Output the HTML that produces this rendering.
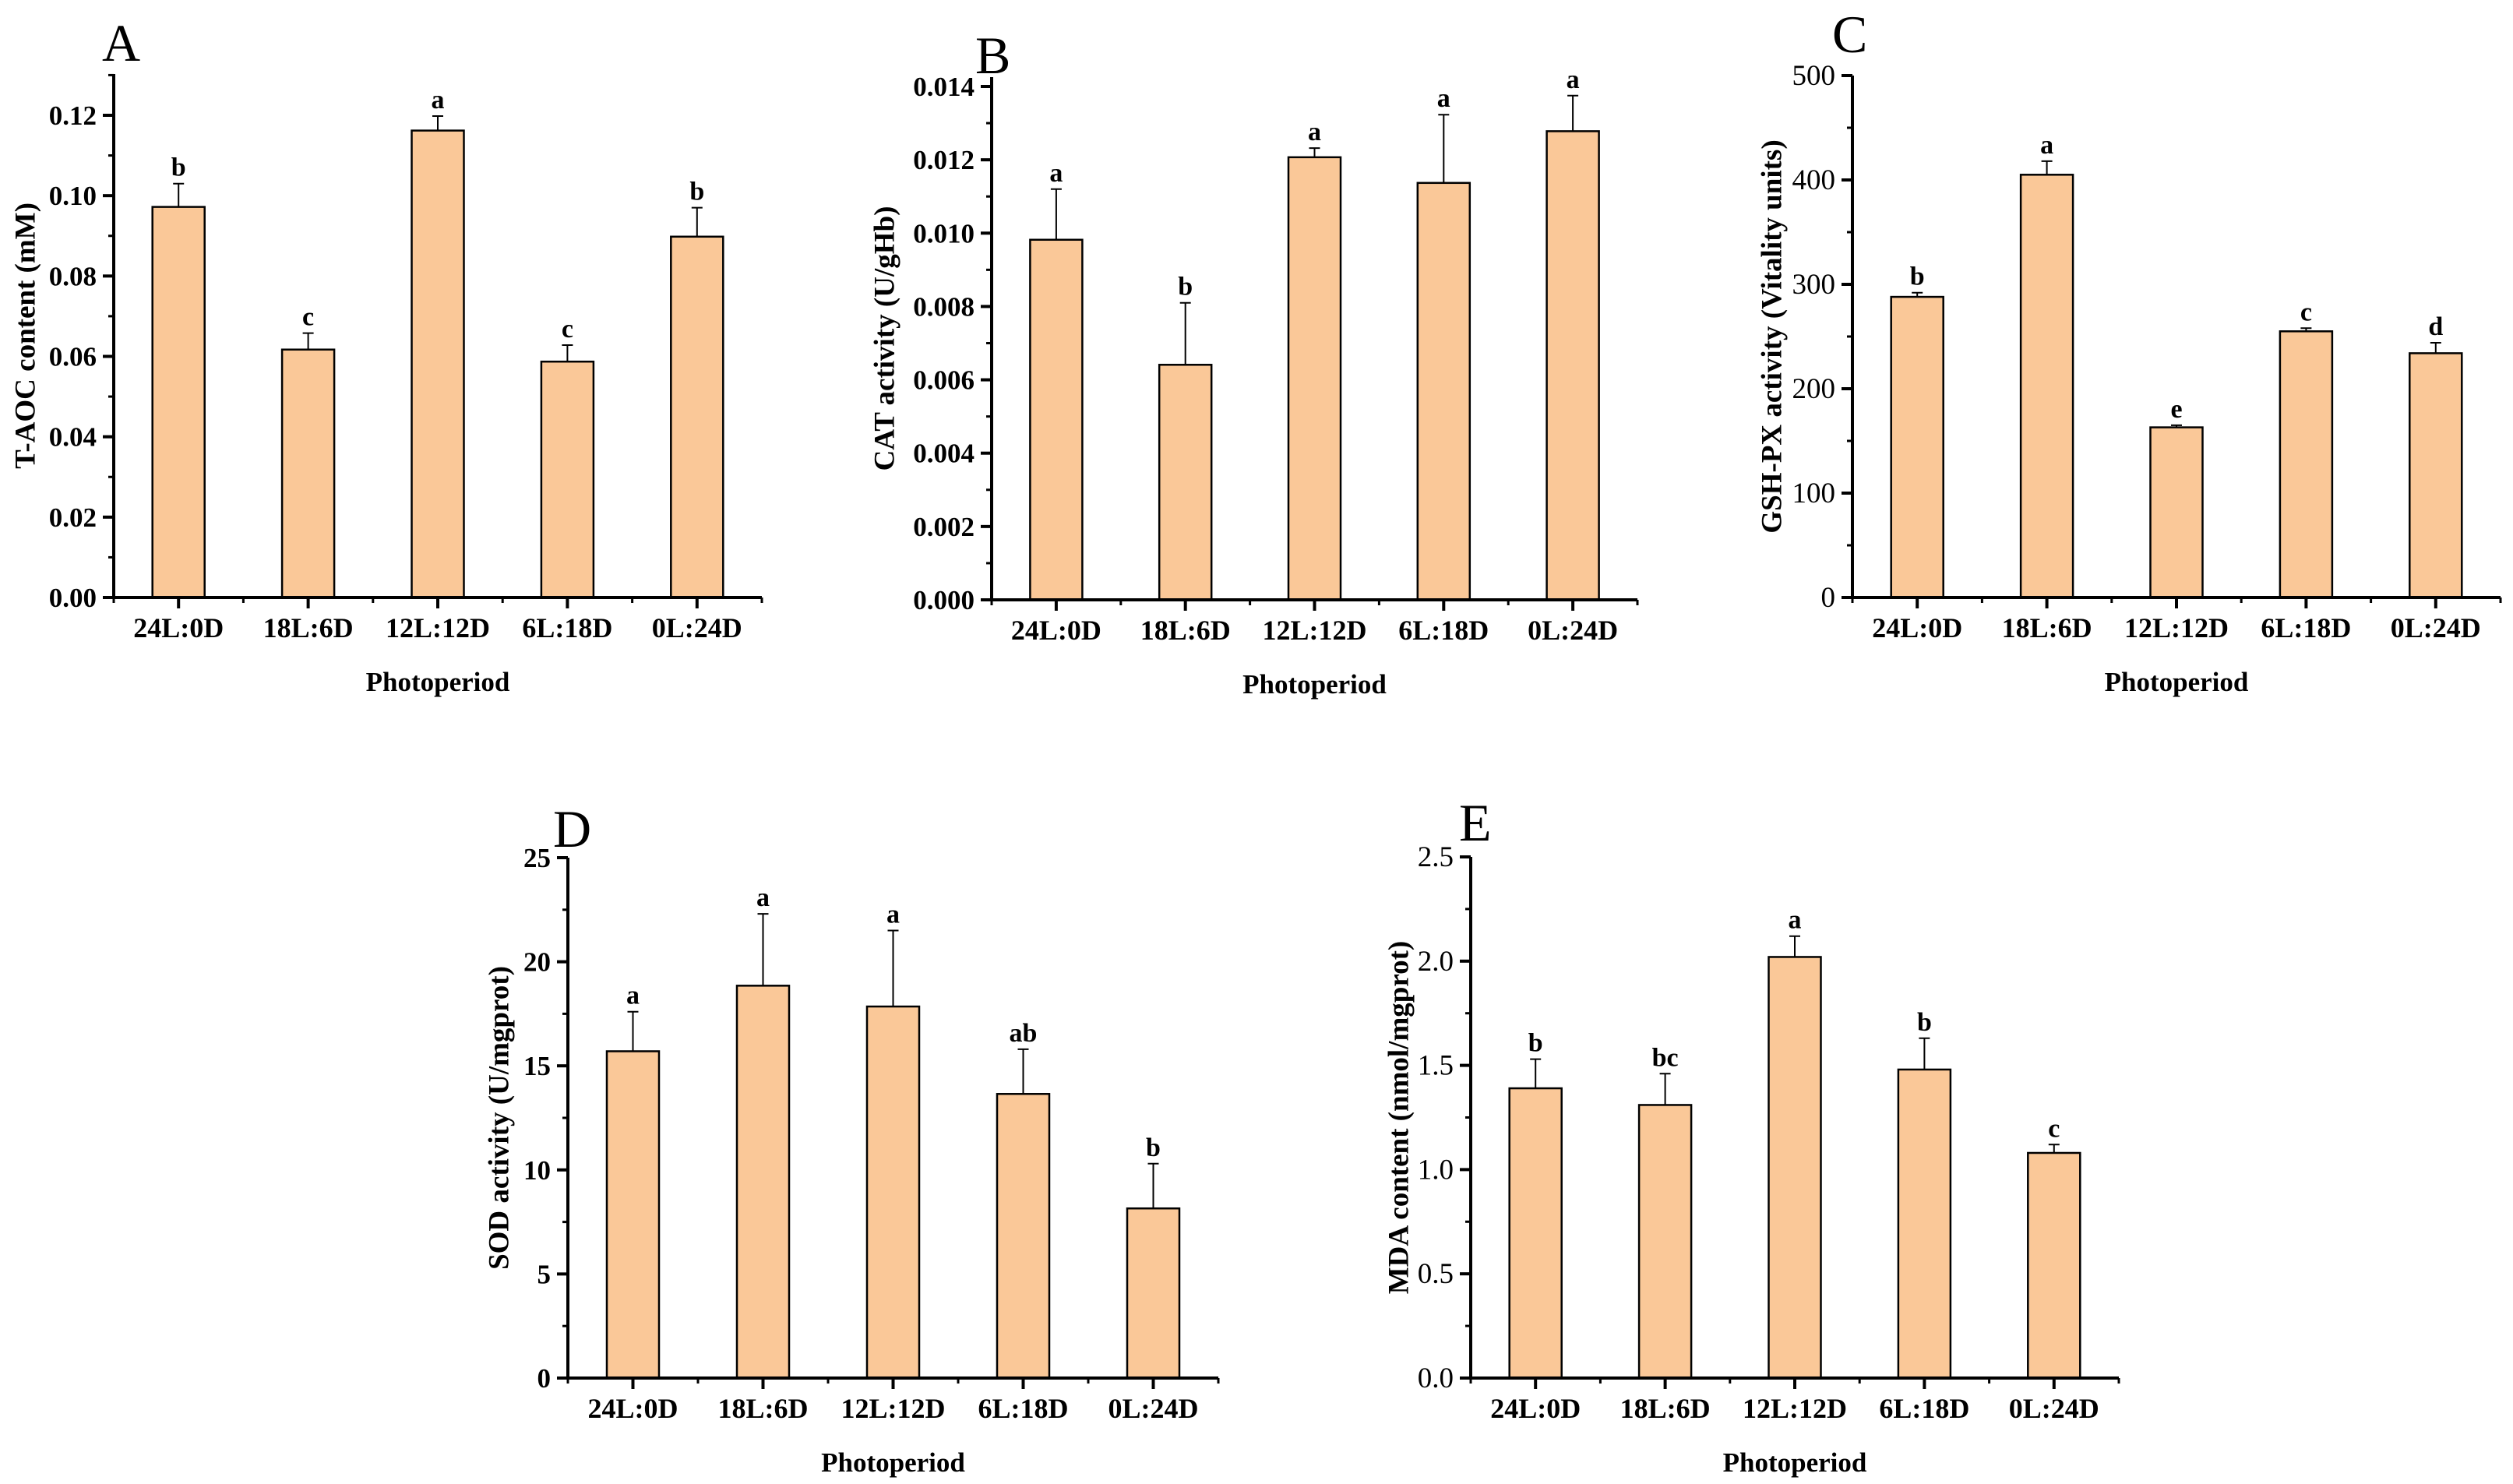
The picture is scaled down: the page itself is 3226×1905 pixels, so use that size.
<!DOCTYPE html>
<html><head><meta charset="utf-8"><style>
html,body{margin:0;padding:0;background:#fff}
svg{display:block}
text{font-family:"Liberation Serif",serif;fill:#000}
</style></head><body>
<svg id="fig" width="3226" height="1905" viewBox="0 0 3226 1905" xmlns="http://www.w3.org/2000/svg"></svg>
<script>
const categories = ["24L:0D","18L:6D","12L:12D","6L:18D","0L:24D"];
const tAocMeans = [0.0972,0.0617,0.1162,0.0587,0.0898];
const tAocErr = [0.0058,0.0041,0.0036,0.0041,0.0072];
const tAocLetters = ["b","c","a","c","b"];
const tAocTicks = [0,0.02,0.04,0.06,0.08,0.10,0.12];
const catMeans = [0.00982,0.00641,0.01207,0.01137,0.01278];
const catErr = [0.00138,0.00169,0.00025,0.00186,0.00097];
const catLetters = ["a","b","a","a","a"];
const catTicks = [0,0.002,0.004,0.006,0.008,0.010,0.012,0.014];
const gshMeans = [288,405,163,255,234];
const gshErr = [4,13,2,3,10];
const gshLetters = ["b","a","e","c","d"];
const gshTicks = [0,100,200,300,400,500];
const sodMeans = [15.7,18.85,17.85,13.65,8.15];
const sodErr = [1.9,3.45,3.65,2.15,2.15];
const sodLetters = ["a","a","a","ab","b"];
const sodTicks = [0,5,10,15,20,25];
const mdaMeans = [1.39,1.31,2.02,1.48,1.08];
const mdaErr = [0.14,0.15,0.10,0.15,0.04];
const mdaLetters = ["b","bc","a","b","c"];
const mdaTicks = [0,0.5,1.0,1.5,2.0,2.5];

const NS="http://www.w3.org/2000/svg";
const svg=document.getElementById('fig');
function mk(tag,attrs,parent){const e=document.createElementNS(NS,tag);for(const k in attrs)e.setAttribute(k,attrs[k]);(parent||svg).appendChild(e);return e;}

const panels=[
 {id:"a",letter:"A",lx:131,ly:78,x0:146,x1:978,y0:767,topY:95,refVal:0.12,refY:148,ticks:tAocTicks,dec:2,bold:true,title:"T-AOC content (mM)",tx:33,means:tAocMeans,err:tAocErr,letters:tAocLetters},
 {id:"b",letter:"B",lx:1252,ly:94,x0:1273,x1:2102,y0:770,topY:99,refVal:0.014,refY:111,ticks:catTicks,dec:3,bold:true,title:"CAT activity (U/gHb)",tx:1136,means:catMeans,err:catErr,letters:catLetters},
 {id:"c",letter:"C",lx:2352,ly:67,x0:2378,x1:3210,y0:767,topY:97,refVal:500,refY:97,ticks:gshTicks,dec:0,bold:false,title:"GSH-PX activity (Vitality units)",tx:2275,means:gshMeans,err:gshErr,letters:gshLetters},
 {id:"d",letter:"D",lx:710,ly:1087,x0:729,x1:1564,y0:1769,topY:1101,refVal:25,refY:1101,ticks:sodTicks,dec:0,bold:true,title:"SOD activity (U/mgprot)",tx:641,means:sodMeans,err:sodErr,letters:sodLetters},
 {id:"e",letter:"E",lx:1873,ly:1079,x0:1888,x1:2720,y0:1769,topY:1100,refVal:2.5,refY:1100,ticks:mdaTicks,dec:1,bold:false,title:"MDA content (nmol/mgprot)",tx:1796,means:mdaMeans,err:mdaErr,letters:mdaLetters}
];

panels.forEach(p=>{
  const g=mk('g',{});
  
  
  const yv=v=>p.y0-(v/p.refVal)*(p.y0-p.refY);
  const n=categories.length, step=(p.x1-p.x0)/n;
  const xc=i=>p.x0+step*(i+0.5);
  const bw=67;
  const L=mk('text',{x:p.lx,y:p.ly,'font-size':68},g);L.textContent=p.letter;
  
  
  p.means.forEach((m,i)=>{
    const yt=yv(m);
    const r=mk('rect',{x:xc(i)-bw/2,y:yt,width:bw,height:p.y0-yt,fill:'#FAC898',stroke:'#000','stroke-width':2.5},g);
    
    
    const ye=yv(m+p.err[i]);
    const eb=mk('path',{d:`M${xc(i)} ${yt} V${ye} M${xc(i)-7} ${ye} H${xc(i)+7}`,stroke:'#000','stroke-width':2,fill:'none'},g);
    
    
    const t=mk('text',{x:xc(i),y:ye-10,'font-size':34,'font-weight':'bold','text-anchor':'middle'},g);
    t.textContent=p.letters[i];
    
    
    const tl=mk('text',{x:xc(i),y:p.y0+51,'font-size':36,'font-weight':'bold','text-anchor':'middle'},g);
    tl.textContent=categories[i];
    
    
    mk('line',{x1:xc(i),x2:xc(i),y1:p.y0,y2:p.y0+14,stroke:'#000','stroke-width':4},g);
  });
  for(let i=0;i<=n;i++){mk('line',{x1:p.x0+step*i,x2:p.x0+step*i,y1:p.y0,y2:p.y0+7,stroke:'#000','stroke-width':3},g);}
  const tstep=p.ticks[1]-p.ticks[0];
  p.ticks.forEach(v=>{
    const y=yv(v);
    mk('line',{x1:p.x0-14,x2:p.x0,y1:y,y2:y,stroke:'#000','stroke-width':4},g);
    const t=mk('text',{x:p.x0-22,y:y+12,'font-size':p.bold?35:37,'font-weight':p.bold?'bold':'normal','text-anchor':'end'},g);
    t.textContent=v.toFixed(p.dec);
    
    
  });
  for(let v=tstep/2;yv(v)>=p.topY-1;v+=tstep){const y=yv(v);mk('line',{x1:p.x0-7,x2:p.x0,y1:y,y2:y,stroke:'#000','stroke-width':3},g);}
  const ax=mk('path',{d:`M${p.x0} ${p.topY} V${p.y0} H${p.x1}`,stroke:'#000','stroke-width':4,fill:'none'},g);
  
  
  const xt=mk('text',{x:(p.x0+p.x1)/2,y:p.y0+120,'font-size':35,'font-weight':'bold','text-anchor':'middle'},g);
  xt.textContent='Photoperiod';
  
  
  const cy=(p.topY+p.y0)/2;
  const yt=mk('text',{x:p.tx,y:cy,'font-size':37,'font-weight':'bold','text-anchor':'middle','dominant-baseline':'central',transform:`rotate(-90 ${p.tx} ${cy})`},g);
  yt.textContent=p.title;
  
  
});
</script>
</body></html>
